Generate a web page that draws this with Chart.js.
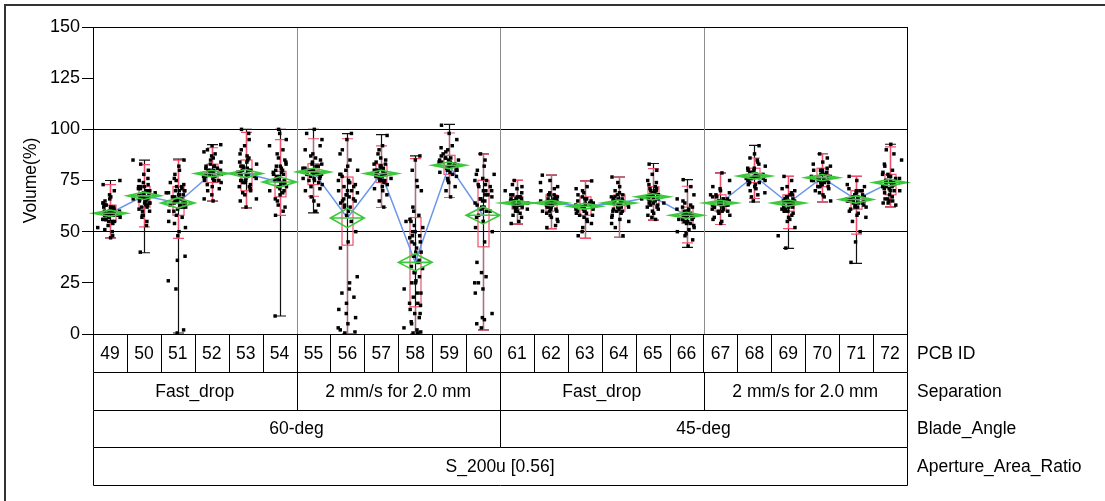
<!DOCTYPE html>
<html><head><meta charset="utf-8">
<script src="https://cdn.jsdelivr.net/npm/chart.js@4.4.0/dist/chart.umd.min.js"></script>
<style>html,body{margin:0;padding:0;background:#fff;}canvas{display:block;}</style>
</head><body>
<canvas id="c" width="1105" height="501"></canvas>
<script>
// ---- categories / labels ----
const pcbIds = ["49","50","51","52","53","54","55","56","57","58","59","60","61","62","63","64","65","66","67","68","69","70","71","72"];
const separationLabels = ["Fast_drop","2 mm/s for 2.0 mm","Fast_drop","2 mm/s for 2.0 mm"];
const bladeLabels = ["60-deg","45-deg"];
const apertureLabels = ["S_200u [0.56]"];
const rowNames = ["PCB ID","Separation","Blade_Angle","Aperture_Area_Ratio"];
const yTickValues = [0,25,50,75,100,125,150];

// ---- raw volume readings per PCB ----
const v49 = [52,55,58,60,62,57,54,63,66,70,59,61,56,53,48,65,68,60,58,62,64,57,55,51,59,61,63,67,73,75,50,58,60,62,56,47,64,58,59,60,57,61,58,62,56,60,59,63,55,58];
const v50 = [60,62,65,68,70,72,66,64,58,55,75,78,80,83,85,70,67,63,61,69,73,71,65,60,57,53,68,74,76,40,66,64,62,70,72,58,66,68,64,70,67,65,71,69,63,66,72,68];
const v51 = [65,68,70,72,60,62,66,74,78,80,85,58,55,52,48,63,67,70,73,75,69,64,61,57,54,50,2,22,26,38,36,71,76,82,68,65,62,70,0.5,66,64,68,62,70,63,67,65,72,60,69,64];
const v52 = [70,72,75,78,80,82,85,88,90,92,76,74,79,81,83,77,73,68,66,84,86,78,80,75,71,87,89,92.5,65,77,79,82,78,79,77,80,76,81,78,82,75,79,77,80];
const v53 = [65,68,72,75,78,80,82,85,88,92,95,100,62,70,74,77,79,83,86,90,76,73,69,81,84,66,98,78,75,71,80,87,78,76,80,82,74,79,77,84,72,81,78,75];
const v54 = [62,65,70,72,75,78,80,82,85,88,92,95,100,60,58,68,73,76,79,83,86,90,66,71,74,77,81,84,63,69,8.8,98,75,76,74,78,72,80,75,77,70,82,73,79,76];
const v55 = [70,73,75,78,80,82,85,88,90,95,100,98,67,60,77,79,81,83,76,74,72,86,92,84,80,78,65,63,87,76,71,79,79,80,78,82,77,81,76,83,79,75,80,78];
const v56 = [62,65,68,70,72,75,78,80,85,90,95,98,66,60,64,69,74,77,58,55,50,45,42,28,25,20,15,12,8,5,2,0.5,22,18,10,70,73,82,88,63,67,72,68,75,65,70,78,62,74,66,80,3,1];
const v57 = [70,73,75,78,80,82,85,88,92,97,76,74,79,81,83,77,72,68,65,62,84,86,78,80,75,71,90,79,77,82,78,79,77,80,76,81,78,82,75,79,77,83];
const v58 = [85,87,80,75,70,60,55,52,50,48,45,42,40,38,35,32,30,28,25,22,20,18,15,12,10,8,5,3,1,0.5,0.5,56,44,36,33,26,14,62,72,47,53,58,6,40,45,50,20,15,30,35,55,25,10,48,2];
const v59 = [75,78,80,82,84,85,86,88,90,92,95,98,102,70,67,72,76,79,81,83,87,89,84,82,80,85,77,74,91,86,82,83,81,84,80,85,82,86,79,83,81,84];
const v60 = [88,85,80,78,75,72,70,68,66,65,63,62,60,58,55,52,50,45,35,30,28,25,22,20,10,7,5,3,70,73,76,64,67,82,57,61,68,72,65,75,70,62,78,66,73,60,8,25];
const v61 = [58,60,62,63,64,65,66,67,68,70,72,75,55,54,61,63,65,67,69,62,64,66,60,59,73,71,57,65,63,68,64,63,65,62,66,64,63,65,61,67,64,66];
const v62 = [55,58,60,62,64,66,68,70,72,75,77.6,52,57,61,63,65,67,69,71,59,62,64,66,74,56,60,68,63,65,53,64,63,65,62,66,64,61,67,63,65,60,68];
const v63 = [48,52,55,58,60,62,64,66,68,70,72,74.8,57,59,61,63,65,67,56,54,69,71,62,64,60,50,66,63,62,61,63,60,64,62,59,65,61,63,58,66];
const v64 = [48,52,56,58,60,62,64,66,68,70,72,76.7,55,59,61,63,65,67,69,57,62,64,66,74,60,65,63,54,64,63,65,62,66,64,61,67,63,65,60,68];
const v65 = [56,58,60,62,64,66,68,70,72,75,78,80,83,59,61,63,65,67,69,71,73,64,66,68,70,62,57,74,67,66,68,65,69,67,64,70,66,68,63,71];
const v66 = [43,46,48,50,52,54,56,58,60,62,64,66,68,70,72,75.4,55,57,59,61,53,49,63,65,58,56,60,51,58,57,59,56,60,58,55,61,57,59,54,62];
const v67 = [54,56,58,60,62,64,66,68,70,72,75,78.7,57,59,61,63,65,67,69,55,62,64,66,60,71,63,65,64,63,65,62,66,64,61,67,63,65,60,68];
const v68 = [65,68,70,72,74,76,78,80,82,84,86,88,92,67,71,73,75,77,79,81,83,76,78,80,69,85,74,77,77,76,78,75,79,77,74,80,76,78,73,81];
const v69 = [42,48,52,55,58,60,62,64,66,68,70,72,75,77,57,59,61,63,65,67,69,62,64,66,60,56,71,65,64,63,65,62,66,64,61,67,63,65,60,68];
const v70 = [65,68,70,72,74,76,78,80,82,84,86,88,67,71,73,75,77,79,81,69,76,74,78,83,72,80,75,76,75,77,74,78,76,73,79,75,77,72,80];
const v71 = [35,45,50,55,58,60,62,64,66,68,70,72,75,77,57,59,61,63,65,67,69,71,64,66,68,62,73,65,70,66,65,67,64,68,66,63,69,65,67,62,70];
const v72 = [63,64,65,66,68,70,72,74,76,78,80,82,85,88,90,92.7,64,66,67,69,71,73,75,77,79,70,72,83,65,74,73,75,72,76,74,71,77,73,75,70,78];

// ---- summary statistics ----
const means    = [59,67.5,64,78.4,78.4,74.3,79.2,56.7,78.4,35,82.4,58,64,64,62.4,64,67,58,64,77.2,64,76.4,65.7,74];
const meanCI   = [1.5,1.8,2.5,1.6,2,2.5,1.8,4.7,1.6,4.2,1.6,4.2,1.2,1.3,1.4,1.4,1.5,1.5,1.3,1.5,1.5,1.5,1.8,1.6];
const q1       = [55,62,58,74,70,67,73,43.4,74,13.3,78,42.6,61,60,58,60,63,54,60,74,60,72,61,68];
const q3       = [63,72,72,83,85,79.5,83.2,76.7,83,56.9,87.3,75.1,67,68,67,68,72,62,68,81,68,81,70,78];
const whiskLo  = [47,52.3,46.7,64.9,61.6,58,67.3,0,61.8,0,66.7,2,53.7,51.5,46.7,47.2,55.6,44.5,53.5,66.2,51.5,64.5,48.8,62.1];
const whiskHi  = [73,82.8,85,91,98.5,95,95.4,95.4,91.9,85.7,98.2,88,75.1,77.6,74.8,76.7,80.8,72.2,78.7,86,77,88.1,77,91.4];
const rangeMin = [47,39.7,0.5,64.9,61.6,8.8,59.2,0,61.8,0,66.7,2,53.7,51.5,46.7,47.2,55.6,42.3,53.5,64.5,41.8,64.5,34.5,62.1];
const rangeMax = [75,85,85.4,92.5,100,100,100,97.9,97.4,87,102.4,88,75.1,77.6,74.8,76.7,83.3,75.4,78.7,92.2,77,88.1,77,92.7];

const groups = [v49,v50,v51,v52,v53,v54,v55,v56,v57,v58,v59,v60,v61,v62,v63,v64,v65,v66,v67,v68,v69,v70,v71,v72];

// ---- build datasets ----
const FONT = '"Liberation Sans", Arial, sans-serif';
const RED = '#f0506e', GREEN = '#3cc83c', BLUE = '#6a96ee';
const pointData = [];
groups.forEach((vals, g) => {
  vals.forEach((v, i) => {
    const a = (i * 0.6180339887 + g * 0.371) % 1;
    const b = (i * 0.7548776662 + g * 0.519) % 1;
    const j = ((a + b) / 2 - 0.5) * 0.72;
    pointData.push({x: g + j, y: v});
  });
});
const datasets = [{
  type: 'scatter', data: pointData, order: 0,
  pointStyle: 'rect', pointRadius: 2.45, pointBorderWidth: 0,
  backgroundColor: '#000', borderColor: '#000'
}];
for (let blk = 0; blk < 4; blk++) {
  const d = [];
  for (let k = 0; k < 6; k++) { const g = blk * 6 + k; d.push({x: g, y: means[g]}); }
  datasets.push({type: 'line', data: d, order: 1, borderColor: BLUE, borderWidth: 1.5,
    pointRadius: 0, fill: false, tension: 0});
}

const drawPlugin = {
  id: 'variability',
  beforeDatasetsDraw(chart) {
    const {ctx, chartArea: ca, scales: {x, y}} = chart;
    ctx.save();
    ctx.strokeStyle = '#8c8c8c'; ctx.lineWidth = 1;
    [5.5, 11.5, 17.5].forEach(b => {
      const px = Math.round(x.getPixelForValue(b)) + 0.5;
      ctx.beginPath(); ctx.moveTo(px, ca.top); ctx.lineTo(px, ca.bottom); ctx.stroke();
    });
    for (let g = 0; g < 24; g++) {
      const cx = Math.round(x.getPixelForValue(g)) + 0.5;
      ctx.strokeStyle = '#111'; ctx.lineWidth = 1.2;
      const yMin = y.getPixelForValue(rangeMin[g]), yMax = y.getPixelForValue(rangeMax[g]);
      ctx.beginPath(); ctx.moveTo(cx, yMin); ctx.lineTo(cx, yMax);
      ctx.moveTo(cx - 5.5, yMin); ctx.lineTo(cx + 5.5, yMin);
      ctx.moveTo(cx - 5.5, yMax); ctx.lineTo(cx + 5.5, yMax);
      ctx.stroke();
      ctx.strokeStyle = RED; ctx.lineWidth = 1.2;
      const yLo = y.getPixelForValue(whiskLo[g]), yHi = y.getPixelForValue(whiskHi[g]);
      const yQ1 = y.getPixelForValue(q1[g]), yQ3 = y.getPixelForValue(q3[g]);
      ctx.beginPath();
      ctx.moveTo(cx, yLo); ctx.lineTo(cx, yQ1);
      ctx.moveTo(cx, yQ3); ctx.lineTo(cx, yHi);
      ctx.moveTo(cx - 5.5, yLo); ctx.lineTo(cx + 5.5, yLo);
      ctx.moveTo(cx - 5.5, yHi); ctx.lineTo(cx + 5.5, yHi);
      ctx.stroke();
      ctx.strokeRect(cx - 5.5, yQ3, 11, yQ1 - yQ3);
    }
    ctx.restore();
  },
  afterDatasetsDraw(chart) {
    const {ctx, scales: {x, y}} = chart;
    ctx.save();
    ctx.strokeStyle = GREEN; ctx.lineWidth = 1.6;
    const half = (x.getPixelForValue(1) - x.getPixelForValue(0)) * 0.5;
    for (let g = 0; g < 24; g++) {
      const cx = x.getPixelForValue(g);
      const ym = y.getPixelForValue(means[g]);
      const yt = y.getPixelForValue(means[g] + meanCI[g]);
      const yb = y.getPixelForValue(means[g] - meanCI[g]);
      ctx.beginPath();
      ctx.moveTo(cx - half, ym); ctx.lineTo(cx, yt); ctx.lineTo(cx + half, ym); ctx.lineTo(cx, yb); ctx.closePath();
      ctx.moveTo(cx - half, ym); ctx.lineTo(cx + half, ym);
      ctx.stroke();
    }
    ctx.restore();
  },
  afterDraw(chart) {
    const {ctx, chartArea: ca} = chart;
    ctx.save();
    const L = Math.round(ca.left) + 0.5, R = Math.round(ca.right) + 0.5;
    const T = Math.round(ca.top) + 0.5, B = Math.round(ca.bottom) + 0.5;
    ctx.strokeStyle = '#000'; ctx.lineWidth = 1;
    ctx.strokeRect(L, T, R - L, B - T);
    const rowH = 37.8;
    const colW = (ca.right - ca.left) / 24;
    ctx.font = '17.5px ' + FONT; ctx.fillStyle = '#000';
    ctx.textBaseline = 'middle';
    const rows = [
      {labels: pcbIds, span: 1},
      {labels: separationLabels, span: 6},
      {labels: bladeLabels, span: 12},
      {labels: apertureLabels, span: 24}
    ];
    rows.forEach((r, ri) => {
      const top = ca.bottom + ri * rowH, bot = top + rowH;
      const yb = Math.round(bot) + 0.5;
      ctx.beginPath(); ctx.moveTo(L, yb); ctx.lineTo(R, yb); ctx.stroke();
      ctx.textAlign = 'center';
      r.labels.forEach((lab, k) => {
        const x0 = ca.left + k * r.span * colW;
        const x1 = x0 + r.span * colW;
        const xs = Math.round(x1) + 0.5;
        ctx.beginPath(); ctx.moveTo(xs, Math.round(top) + 0.5); ctx.lineTo(xs, yb); ctx.stroke();
        ctx.fillText(lab, (x0 + x1) / 2, (top + bot) / 2 + 1);
      });
      ctx.beginPath(); ctx.moveTo(L, Math.round(top) + 0.5); ctx.lineTo(L, yb); ctx.stroke();
      ctx.textAlign = 'left';
      ctx.fillText(rowNames[ri], ca.right + 10, (top + bot) / 2 + 1);
    });
    ctx.save();
    ctx.translate(31, (ca.top + ca.bottom) / 2);
    ctx.rotate(-Math.PI / 2);
    ctx.textAlign = 'center';
    ctx.font = '17.5px ' + FONT;
    ctx.fillText('Volume(%)', 0, 0);
    ctx.restore();
    ctx.strokeStyle = '#333'; ctx.lineWidth = 2;
    ctx.beginPath(); ctx.moveTo(5, 501); ctx.lineTo(5, 5); ctx.lineTo(1105, 5); ctx.stroke();
    ctx.restore();
  }
};

new Chart(document.getElementById('c'), {
  data: {datasets},
  options: {
    responsive: false, animation: false, devicePixelRatio: 1,
    layout: {padding: {left: 0, top: 27, right: 198, bottom: 167}},
    plugins: {legend: {display: false}, tooltip: {enabled: false}},
    scales: {
      x: {type: 'linear', min: -0.5, max: 23.5, display: false},
      y: {
        type: 'linear', min: 0, max: 150,
        afterFit(s) { s.width = 93; },
        afterBuildTicks(s) { s.ticks = yTickValues.map(v => ({value: v})); },
        ticks: {color: '#000', padding: 2, font: {size: 18, family: FONT}},
        grid: {
          color: c => (c.tick && (c.tick.value === 50 || c.tick.value === 100)) ? '#000' : 'rgba(0,0,0,0)',
          tickColor: '#000', tickLength: 11, lineWidth: 1
        },
        border: {color: '#000'}
      }
    }
  },
  plugins: [drawPlugin]
});
</script>
</body></html>
